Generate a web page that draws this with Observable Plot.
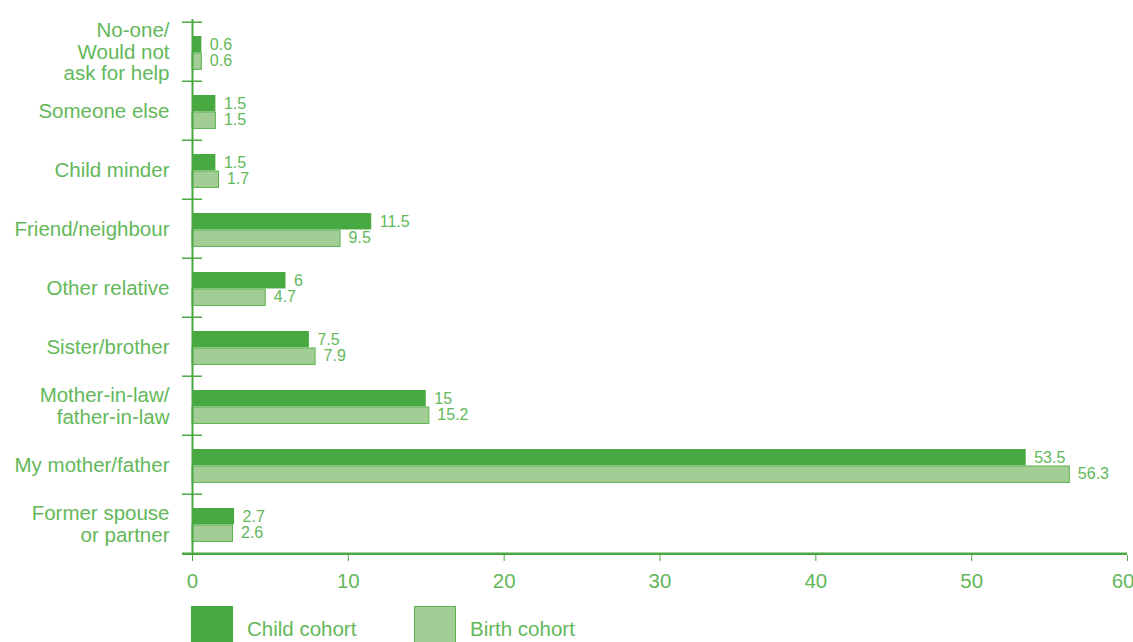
<!DOCTYPE html>
<html>
<head>
<meta charset="utf-8">
<script src="https://cdn.jsdelivr.net/npm/d3@7"></script>
<script src="https://cdn.jsdelivr.net/npm/@observablehq/plot@0.6"></script>
<style>
  html, body { margin: 0; padding: 0; background: #fff; }
  body { font-family: "Liberation Sans", Arial, Helvetica, sans-serif; width: 1133px; height: 642px; overflow: hidden; }
  #chart svg { display: block; }
  #legend { position: relative; height: 42px; margin-top: 6px; }
  .item { position: absolute; top: 0; display: flex; align-items: flex-start; }
  .sw { width: 42px; height: 42px; box-sizing: border-box; }
  .lab { font-size: 20.5px; color: #63b85a; margin-left: 14px; line-height: 1; padding-top: 13px; white-space: nowrap; }
</style>
</head>
<body>
<div id="chart"></div>
<div id="legend"></div>
<script>
const categories = [
  "No-one/\nWould not\nask for help",
  "Someone else",
  "Child minder",
  "Friend/neighbour",
  "Other relative",
  "Sister/brother",
  "Mother-in-law/\nfather-in-law",
  "My mother/father",
  "Former spouse\nor partner"
];
const childCohort = [0.6, 1.5, 1.5, 11.5, 6, 7.5, 15, 53.5, 2.7];
const birthCohort = [0.6, 1.5, 1.7, 9.5, 4.7, 7.9, 15.2, 56.3, 2.6];
const seriesNames = ["Child cohort", "Birth cohort"];
const xTicks = [0, 10, 20, 30, 40, 50, 60];

const dark = "#48a942";
const lightFill = "#a2cd94";
const lightStroke = "#5cb351";
const textColor = "#63b85a";
const axisColor = "#4aa843";

const W = 1133, H = 600, mT = 19, mB = 45, mL = 192, mR = 6;
const bw = (H - mT - mB) / categories.length;
const xMin = xTicks[0], xMax = xTicks[xTicks.length - 1];
const lastCat = categories[categories.length - 1];

const childData = categories.map((c, i) => ({category: c, value: childCohort[i], series: seriesNames[0]}));
const birthData = categories.map((c, i) => ({category: c, value: birthCohort[i], series: seriesNames[1]}));

const chart = Plot.plot({
  width: W,
  height: H,
  marginTop: mT,
  marginBottom: mB,
  marginLeft: mL,
  marginRight: mR,
  style: {fontFamily: "Liberation Sans, Arial, sans-serif", color: textColor, background: "#fff", overflow: "visible"},
  x: {domain: [xMin, xMax]},
  y: {domain: categories, padding: 0, axis: null},
  marks: [
    Plot.barX(childData, {x: "value", y: "category", fill: dark, insetTop: 14, insetBottom: bw - 31}),
    Plot.barX(birthData, {x: "value", y: "category", fill: lightFill, stroke: lightStroke, strokeWidth: 1, insetTop: 31, insetBottom: bw - 48}),
    Plot.text(childData, {x: "value", y: "category", text: d => String(d.value), dx: 8, dy: -7.5, textAnchor: "start", fontSize: 16, fill: textColor}),
    Plot.text(birthData, {x: "value", y: "category", text: d => String(d.value), dx: 8, dy: 8.5, textAnchor: "start", fontSize: 16, fill: textColor}),
    Plot.text(categories, {x: xMin, y: d => d, text: d => d, dx: -23, textAnchor: "end", lineAnchor: "middle", lineHeight: 1.05, fontSize: 20.5, fill: textColor}),
    Plot.ruleX([xMin], {stroke: axisColor, strokeWidth: 2}),
    Plot.ruleY(categories, {y: d => d, dy: -bw / 2, x1: xMin, x2: xMin, insetLeft: -10, insetRight: -10, stroke: axisColor, strokeWidth: 1.5}),
    Plot.ruleY([lastCat], {y: d => d, dy: bw / 2, x1: xMin, x2: xMax, insetLeft: -10, stroke: axisColor, strokeWidth: 2.5}),
    Plot.axisX({ticks: xTicks, tickSize: 6, tickPadding: 12, fontSize: 20.5, stroke: axisColor, fill: textColor,
      tickFormat: d => d === xMax ? "" : String(d), label: null}),
    Plot.text([xMax], {x: d => d, frameAnchor: "bottom", dy: 18, dx: 7, lineAnchor: "top", textAnchor: "end", fontSize: 20.5, fill: textColor, text: d => String(d)})
  ]
});
document.getElementById("chart").appendChild(chart);

// Legend
const legend = document.getElementById("legend");
const swatches = [
  {name: seriesNames[0], fill: dark, stroke: dark, left: 191},
  {name: seriesNames[1], fill: lightFill, stroke: lightStroke, left: 414}
];
for (const s of swatches) {
  const item = document.createElement("div");
  item.className = "item";
  item.style.left = s.left + "px";
  const sw = document.createElement("div");
  sw.className = "sw";
  sw.style.background = s.fill;
  sw.style.border = "1px solid " + s.stroke;
  const lab = document.createElement("div");
  lab.className = "lab";
  lab.textContent = s.name;
  item.appendChild(sw);
  item.appendChild(lab);
  legend.appendChild(item);
}
</script>
</body>
</html>
